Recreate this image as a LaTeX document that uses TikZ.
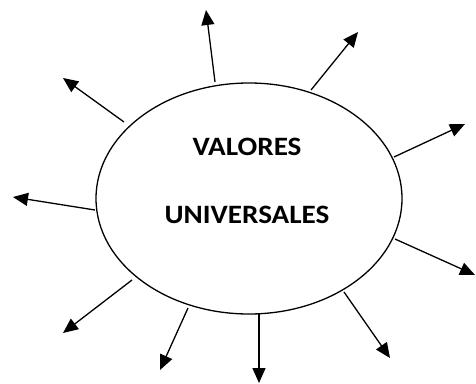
\documentclass[tikz,border=0pt]{standalone}
\usepackage{fontspec}
\setmainfont{Carlito}
\usetikzlibrary{arrows.meta}
\begin{document}
\begin{tikzpicture}[x=1pt,y=-1pt,
  ray/.style={line width=1.3pt,-{Triangle[length=15pt,width=13pt]}},
  label/.style={font=\fontsize{26.5}{30}\selectfont\bfseries,xscale=1.1,transform shape,inner sep=0pt}]
\useasboundingbox (0,0) rectangle (476,383);
\draw[line width=1.3pt] (249,198.5) ellipse [x radius=153, y radius=115.5];
\node[label] (t1) at (247,147) {VALORES};
\node[label] (t2) at (247,215) {UNIVERSALES};
% start points on the ellipse
\coordinate (s1) at (215,82);
\coordinate (s2) at (311,90);
\coordinate (s3) at (394,157);
\coordinate (s4) at (395,239);
\coordinate (s5) at (344,292);
\coordinate (s6) at (259,313);
\coordinate (s7) at (188,308);
\coordinate (s8) at (132,280);
\coordinate (s9) at (95,210);
\coordinate (s10) at (124,122);
% tips
\coordinate (e1) at (206,10);
\coordinate (e2) at (358,32);
\coordinate (e3) at (465,124);
\coordinate (e4) at (475,275);
\coordinate (e5) at (390,358);
\coordinate (e6) at (259,383);
\coordinate (e7) at (160,370);
\coordinate (e8) at (63,333);
\coordinate (e9) at (13,197);
\coordinate (e10) at (63,78);
\foreach \i in {1,...,10} \draw[ray] (s\i) -- (e\i);
\end{tikzpicture}
\end{document}
